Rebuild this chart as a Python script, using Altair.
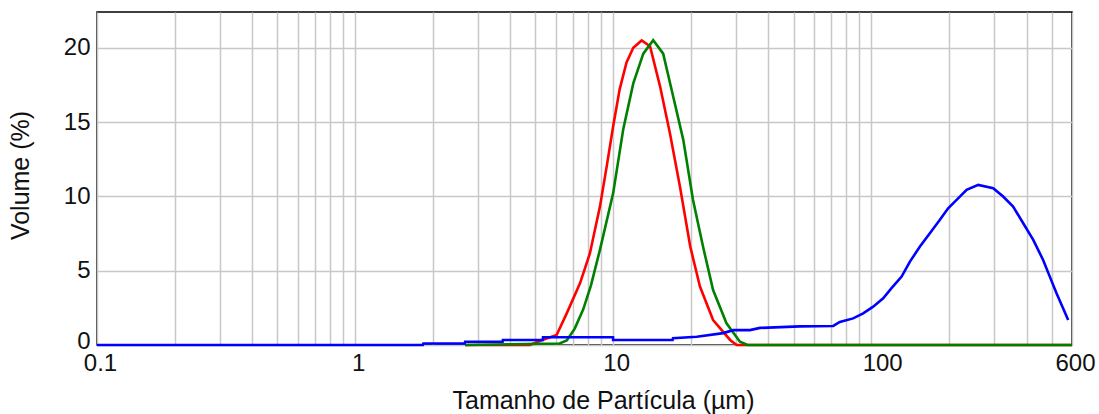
import altair as alt
import pandas as pd

# Particle size distributions (size in µm, volume in %)
size_red = [2.67, 4.76, 5.0, 5.35, 6.04, 6.61, 7.44, 8.13, 8.89, 9.44, 10.0, 10.6,
            11.27, 11.97, 12.9, 13.9, 15.2, 16.6, 18.15, 19.9, 21.7, 24.4, 28.4,
            30.1, 600]
vol_red = [0, 0, 0.15, 0.35, 0.67, 2.13, 4.15, 6.17, 9.31, 12.0, 14.7, 17.2,
           19.0, 20.0, 20.49, 20.1, 17.4, 14.25, 10.66, 6.62, 3.93, 1.68, 0.34,
           0, 0]

size_green = [2.67, 6.2, 6.61, 7.1, 7.66, 8.2, 8.89, 10.0, 10.94, 11.97, 13.09,
              14.3, 15.63, 17.1, 18.7, 20.4, 22.3, 24.4, 27.5, 31.0, 33.2, 600]
vol_green = [0, 0.1, 0.3, 1.1, 2.4, 4.0, 6.4, 10.2, 14.5, 17.6, 19.6,
             20.5, 19.6, 16.7, 13.8, 9.76, 6.62, 3.7, 1.46, 0.22, 0, 0]

size_blue = [0.1, 1.83, 1.84, 2.66, 2.67, 3.73, 3.74, 5.34, 5.35, 9.99, 10.0,
             17.0, 17.06, 21.1, 26.7, 29.2, 33.9, 37.1, 52.9, 71.3, 75.6, 85.1,
             93.1, 101.8, 111.3, 119.9, 131.2, 141.3, 154.5, 168.8, 184.6,
             198.7, 214.3, 234.3, 259.9, 297.1, 324.6, 354.8, 388.2, 424.6,
             463.7, 492.2, 522.6, 579.9]
vol_blue = [0, 0, 0.1, 0.1, 0.22, 0.22, 0.34, 0.34, 0.52, 0.52, 0.34,
            0.34, 0.45, 0.56, 0.8, 1.0, 1.0, 1.15, 1.25, 1.28, 1.55, 1.79,
            2.13, 2.58, 3.14, 3.82, 4.60, 5.61, 6.62, 7.52, 8.42,
            9.20, 9.76, 10.44, 10.77, 10.55, 9.99, 9.31, 8.19, 7.07,
            5.72, 4.60, 3.48, 1.68]

# Logarithmic grid positions and the ticks that carry labels
grid_x = [0.1, 0.2, 0.3, 0.4, 0.5, 0.6, 0.7, 0.8, 0.9,
          1, 2, 3, 4, 5, 6, 7, 8, 9,
          10, 20, 30, 40, 50, 60, 70, 80, 90,
          100, 200, 300, 400, 500, 600]
labelled_x = [0.1, 1, 10, 100, 600]
ticks_y = [0, 5, 10, 15, 20]

FONT = "Liberation Sans"

x_scale = alt.Scale(type="log", domain=[0.1, 600], nice=False)
y_scale = alt.Scale(domain=[0, 22.4], nice=False, zero=True)

x_axis = alt.Axis(
    values=grid_x,
    format="~g",
    labelExpr="indexof(" + str(labelled_x) + ", datum.value) >= 0 ? datum.label : ''",
    grid=True, gridColor="#c8c8c8", gridWidth=1.5,
    ticks=False, tickSize=0, domain=False,
    labelFont=FONT, labelFontSize=24, labelColor="#111111",
    labelPadding=6, labelBaseline="top", labelAlign="center",
    labelOverlap=False, labelFlush=False,
    labelOffset={"condition": {"test": "datum.value == 100", "value": 11}, "value": 3},
    title="Tamanho de Partícula (µm)",
    titleFont=FONT, titleFontSize=25, titleFontWeight="normal", titleColor="#111111",
    titleX=506, titleY=63, titleAlign="center", titleBaseline="alphabetic",
)

y_axis = alt.Axis(
    values=ticks_y,
    grid=True, gridColor="#c8c8c8", gridWidth=1.5,
    ticks=False, tickSize=0, domain=False,
    labelFont=FONT, labelFontSize=24, labelColor="#111111",
    labelPadding=7, labelBaseline="middle", labelAlign="right",
    labelOverlap=False, labelFlush=False,
    labelOffset={"condition": {"test": "datum.value == 0", "value": -4}, "value": 0},
    title="Volume (%)",
    titleFont=FONT, titleFontSize=25, titleFontWeight="normal", titleColor="#111111",
    titleAngle=270, titleX=-69, titleY=163, titleAlign="center",
    titleBaseline="alphabetic",
)


def curve(sizes, vols, color):
    df = pd.DataFrame({"tamanho": sizes, "volume": vols})
    return alt.Chart(df).mark_line(color=color, strokeWidth=2.6).encode(
        x=alt.X("tamanho:Q", scale=x_scale, axis=x_axis),
        y=alt.Y("volume:Q", scale=y_scale, axis=y_axis),
    )


chart = alt.layer(
    curve(size_red, vol_red, "#ff0000"),
    curve(size_green, vol_green, "#008000"),
    curve(size_blue, vol_blue, "#0000ff"),
).properties(
    width=975,
    height=333,
    autosize=alt.AutoSizeParams(type="none"),
    padding={"left": 97, "top": 12, "right": 27, "bottom": 69},
    background="white",
).configure_view(
    stroke="black", strokeWidth=1.5
)

chart.save("out.html", embed_options={"renderer": "svg", "actions": False})
